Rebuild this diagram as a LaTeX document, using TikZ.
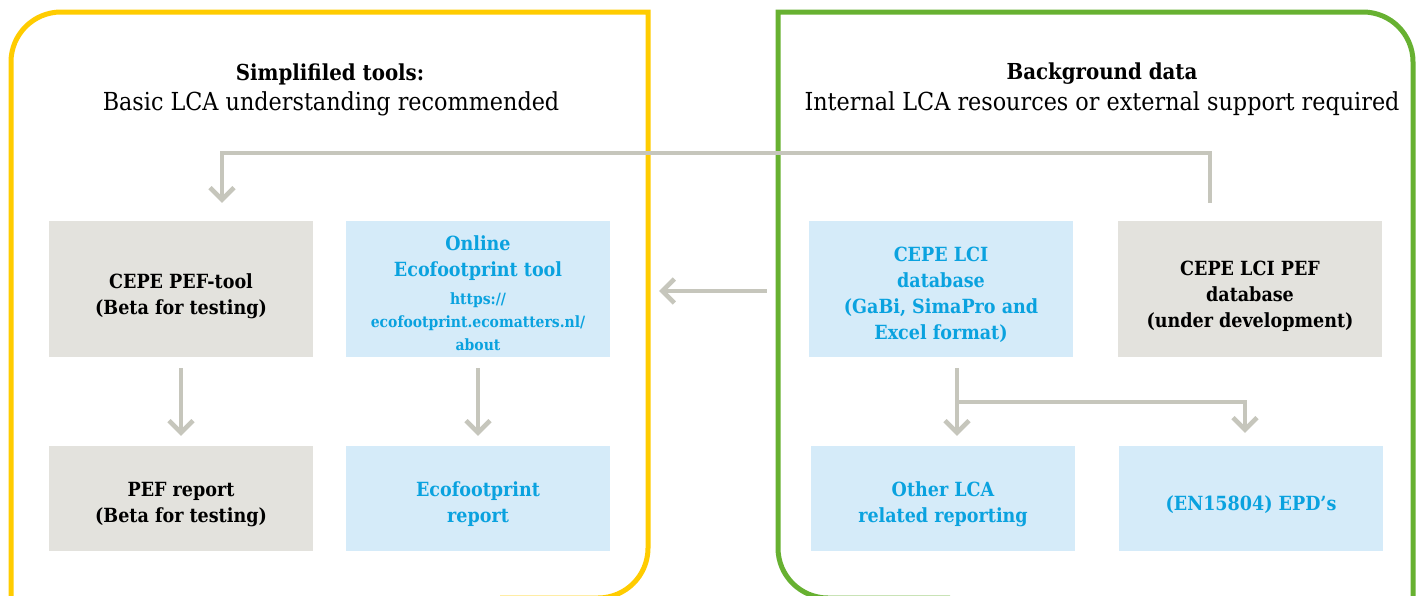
\documentclass[tikz,border=0pt]{standalone}
\usepackage{fontspec}
\setmainfont{DejaVu Serif Condensed}
\usetikzlibrary{arrows.meta,calc}
\definecolor{fyellow}{HTML}{FFCC00}
\definecolor{fgreen}{HTML}{67B131}
\definecolor{boxgray}{HTML}{E3E2DD}
\definecolor{boxblue}{HTML}{D5EBF9}
\definecolor{txtblue}{HTML}{0AA2DF}
\definecolor{arrgray}{HTML}{C6C6BC}
\begin{document}
\begin{tikzpicture}[x=1pt,y=1pt,
  frame/.style={line width=5pt},
  box/.style={minimum width=264pt, inner sep=0pt},
  gbox/.style={box, fill=boxgray},
  bbox/.style={box, fill=boxblue},
  tallbox/.style={minimum height=136pt},
  lowbox/.style={minimum height=105pt},
  btxt/.style={align=center, inner sep=0pt, font=\fontsize{19.5}{26}\selectfont\bfseries},
  gtxt/.style={btxt, text=black},
  btxtb/.style={btxt, text=txtblue},
  urltxt/.style={align=center, inner sep=0pt, text=txtblue, font=\fontsize{15.5}{23}\selectfont\bfseries},
  arr/.style={draw=arrgray, line width=4.5pt, -{Straight Barb[length=12pt,width=24pt]}},
  ttl/.style={font=\fontsize{22}{26}\selectfont\bfseries, inner sep=0pt},
  sub/.style={font=\fontsize{24.8}{26}\selectfont, inner sep=0pt}
]
\useasboundingbox (0,0) rectangle (1423,-595);
\clip (0,0) rectangle (1423,-595);
\fill[white] (0,0) rectangle (1423,-595);

% frames
\draw[frame, fyellow] (11,-640) -- (11,-62) arc[start angle=180,end angle=90,radius=50pt]
  -- (648,-12) -- (648,-548) arc[start angle=0,end angle=-90,radius=50pt] -- (500,-598);
\draw[frame, fgreen] (1413,-640) -- (1413,-62) arc[start angle=0,end angle=90,radius=50pt]
  -- (778,-12) -- (778,-548) arc[start angle=180,end angle=270,radius=50pt] -- (950,-598);

% titles
\node[ttl] (t1) at (330,-74) {Simplifiled tools:};
\node[sub] (t1s) at (331,-104) {Basic LCA understanding recommended};
\node[ttl] (t2) at (1102,-74) {Background data};
\node[sub] (t2s) at (1102,-104) {Internal LCA resources or external support required};

% boxes
\node[gbox,tallbox] (b1) at (181,-289) {};
\node[bbox,tallbox] (b2) at (478,-289) {};
\node[bbox,tallbox] (b3) at (941,-289) {};
\node[gbox,tallbox] (b4) at (1250,-289) {};
\node[gbox,lowbox] (b5) at (181,-498.5) {};
\node[bbox,lowbox] (b6) at (478,-498.5) {};
\node[bbox,lowbox] (b7) at (943,-498.5) {};
\node[bbox,lowbox] (b8) at (1251,-498.5) {};

% box texts
\node[gtxt] (b1t) at ($(b1)+(0,-7)$) {CEPE PEF-tool\\(Beta for testing)};
\node[btxtb] (b2t) at ($(b2)+(0,30.5)$) {Online\\Ecofootprint tool};
\node[urltxt] (b2u) at ($(b2)+(0,-33)$) {https://\\ecofootprint.ecomatters.nl/\\about};
\node[btxtb] (b3t) at ($(b3)+(0,-6)$) {CEPE LCI\\database\\(GaBi, SimaPro and\\Excel format)};
\node[gtxt] (b4t) at ($(b4)+(0,-7)$) {CEPE LCI PEF\\database\\(under development)};
\node[gtxt] (b5t) at ($(b5)+(0,-6)$) {PEF report\\(Beta for testing)};
\node[btxtb] (b6t) at ($(b6)+(0,-6)$) {Ecofootprint\\report};
\node[btxtb] (b7t) at ($(b7)+(0,-6)$) {Other LCA\\related reporting};
\node[btxtb] (b8t) at ($(b8)+(0,-6)$) {(EN15804) EPD’s};

% connectors
\coordinate (c1) at ($(b4.north)+(-40,18)$);
\coordinate (c2) at ($(b1.north)+(41,18)$);
\draw[arr] (c1) -- (c1 |- 0,-153) -- (c2 |- 0,-153) -- (c2);
\draw[arr] ($(b3.west)+(-42,-2)$) -- ($(b2.east)+(49,-2)$);
\draw[arr] ($(b1.south)+(0,-11)$) -- ($(b5.north)+(0,10)$);
\draw[arr] ($(b2.south)+(0,-11)$) -- ($(b6.north)+(0,10)$);
\coordinate (c3) at ($(b3.south)+(16,-11)$);
\coordinate (c4) at ($(b8.north)+(-6,13)$);
\draw[arr] (c3) -- ($(c3 |- b7.north)+(0,10)$);
\draw[arr] (c3 |- 0,-402) -- (c4 |- 0,-402) -- (c4);
\end{tikzpicture}
\end{document}
